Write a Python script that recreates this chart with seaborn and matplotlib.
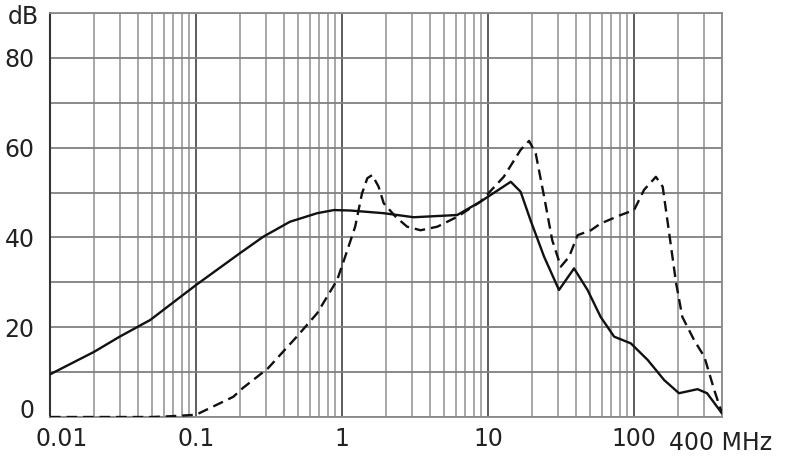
import numpy as np
import pandas as pd
import matplotlib
matplotlib.use('Agg')
import matplotlib.pyplot as plt
import matplotlib.ticker as mticker
import matplotlib.transforms as mtrans
import seaborn as sns

# 데이터
freq_solid = [0.01, 0.02, 0.03, 0.0485, 0.1, 0.2, 0.29, 0.44, 0.675, 0.88, 1.14, 1.93,
              3.1, 6.15, 8.9, 12.3, 14.3, 16.7, 19.5, 24.2, 30.6, 38.8, 48, 59, 73,
              95, 124, 161, 203, 272, 316, 400]
db_solid = [9.5, 14.5, 17.9, 21.6, 29.4, 36.5, 40.2, 43.5, 45.4, 46.1, 46.0, 45.4,
            44.5, 45.0, 48.0, 51.0, 52.4, 50.2, 43.9, 35.7, 28.3, 33.1, 28.3, 22.3, 17.9,
            16.4, 12.7, 8.2, 5.3, 6.2, 5.3, 0.8]

freq_dash = [0.01, 0.05, 0.07, 0.1, 0.18, 0.21, 0.31, 0.49, 0.675, 0.925, 1.05, 1.23,
             1.37, 1.49, 1.61, 1.78, 1.93, 2.33, 2.79, 3.45, 4.5, 6.15, 8.9, 12.8,
             16.7, 19.1, 21.2, 24.2, 27.5, 31.5, 35.9, 41, 50.6, 59, 81, 100, 117,
             141, 157, 174, 194, 214, 258, 303, 354, 400]
db_dash = [0, 0, 0.2, 0.5, 4.5, 6.5, 10.8, 17.9, 23.1, 30.5, 35.7, 42.4,
           49.8, 53.2, 53.9, 51.3, 47.6, 44.6, 42.4, 41.6, 42.4, 44.6, 48.0, 53.5,
           59.5, 61.5, 58.7, 49.1, 39.4, 33.5, 35.7, 40.5, 41.6, 43.1, 45.0, 46.1, 50.6,
           53.5, 51.3, 40.9, 29.8, 22.3, 17.1, 13.4, 6.0, 0.8]

x_ticks = [0.01, 0.1, 1, 10, 100]
x_labels = ['0.01', '0.1', '1', '10', '100']
y_ticks = [0, 20, 40, 60, 80]
y_labels = ['0', '20', '40', '60', '80']

sns.set_style('white')
plt.rcParams['font.family'] = ['DejaVu Sans']

fig = plt.figure(figsize=(7.9, 4.65), dpi=100)
ax = fig.add_axes([50 / 790, 48 / 465, 672 / 790, 404 / 465])

df_s = pd.DataFrame({'f': freq_solid, 'db': db_solid})
df_d = pd.DataFrame({'f': freq_dash, 'db': db_dash})
sns.lineplot(data=df_s, x='f', y='db', ax=ax, color='#111111', lw=1.7, zorder=5)
sns.lineplot(data=df_d, x='f', y='db', ax=ax, color='#111111', lw=1.7, zorder=5,
             linestyle=(0, (4.5, 2.5)))

ax.set_xscale('log')
ax.set_xlim(0.01, 400)
ax.set_ylim(0, 90)

ax.xaxis.set_major_locator(mticker.FixedLocator(x_ticks))
ax.xaxis.set_major_formatter(mticker.FixedFormatter(x_labels))
ax.xaxis.set_minor_locator(mticker.LogLocator(base=10, subs=np.arange(2, 10), numticks=20))
ax.xaxis.set_minor_formatter(mticker.NullFormatter())
ax.yaxis.set_major_locator(mticker.FixedLocator(y_ticks))
ax.yaxis.set_major_formatter(mticker.FixedFormatter(y_labels))
ax.yaxis.set_minor_locator(mticker.FixedLocator([10, 30, 50, 70, 90]))

ax.grid(which='major', axis='x', color='#505050', lw=1.3)
ax.grid(which='minor', axis='x', color='#a0a0a0', lw=1.3)
ax.grid(which='both', axis='y', color='#808080', lw=1.3)
ax.set_axisbelow(True)

ax.tick_params(which='both', length=0, labelsize=17, colors='#222222')
ax.tick_params(axis='x', pad=7)
ax.tick_params(axis='y', pad=11)
ax.set_xlabel('')
ax.set_ylabel('')

# "0" 라벨은 조금 위로, "0.01" 라벨은 조금 오른쪽으로
ax.yaxis.get_majorticklabels()[0].set_transform(
    ax.yaxis.get_majorticklabels()[0].get_transform()
    + mtrans.ScaledTranslation(0, 9 / 100, fig.dpi_scale_trans))
ax.xaxis.get_majorticklabels()[0].set_transform(
    ax.xaxis.get_majorticklabels()[0].get_transform()
    + mtrans.ScaledTranslation(12 / 100, 0, fig.dpi_scale_trans))

for s in ['top', 'right', 'bottom']:
    ax.spines[s].set_color('#8a8a8a')
    ax.spines[s].set_linewidth(1.3)
ax.spines['left'].set_color('#333333')
ax.spines['left'].set_linewidth(1.5)

ax.text(-0.040, 0.99, 'dB', transform=ax.transAxes, fontsize=17, color='#222222',
        ha='center', va='center')
ax.text(0.921, -0.064, '400 MHz', transform=ax.transAxes, fontsize=17, color='#222222',
        ha='left', va='center')

plt.savefig('out.png', dpi=100)
